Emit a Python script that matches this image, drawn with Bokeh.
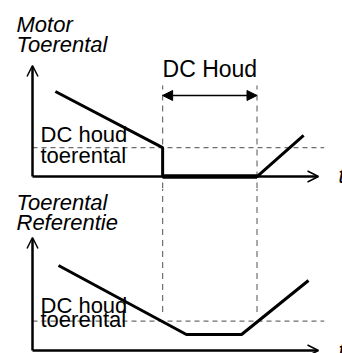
from bokeh.plotting import figure
from bokeh.layouts import column
from bokeh.models import Range1d, Arrow, OpenHead, NormalHead, Label
from bokeh.embed import file_html
from bokeh.resources import INLINE

# ---- data (time in % of axis length, speed in % of axis height) ----
motor_t = [8.0, 45.5, 45.5, 78.5, 94.8]
motor_n = [76.6, 26.0, 0.0, 0.0, 37.0]

ref_t = [9.1, 53.8, 73.1, 96.5]
ref_n = [75.2, 14.2, 14.2, 62.0]

dc_hold_speed = 26.0
dc_start = 45.5
dc_end = 78.5

top_labels = ["Motor", "Toerental"]
bot_labels = ["Toerental", "Referentie"]
dc_label = ["DC houd", "toerental"]
dc_hold_label = "DC Houd"
time_label = "t"

FONT = "Liberation Sans"
W = 342
GRAY = "#6e6e6e"


def make_fig(h, y0, y1):
    p = figure(width=W, height=h, x_range=Range1d(-11.19, 108.39),
               y_range=Range1d(y0, y1), output_backend="svg",
               toolbar_location=None, min_border=0)
    p.xaxis.visible = False
    p.yaxis.visible = False
    p.grid.visible = False
    p.outline_line_color = None
    p.background_fill_color = "white"
    p.border_fill_color = "white"
    return p


def axes(p):
    p.add_layout(Arrow(end=OpenHead(size=11, line_width=1.5, line_color="black"),
                       x_start=0, y_start=0, x_end=0, y_end=100,
                       line_width=2.5, line_color="black"))
    p.add_layout(Arrow(end=OpenHead(size=11, line_width=1.5, line_color="black"),
                       x_start=0, y_start=0, x_end=100, y_end=0,
                       line_width=2.5, line_color="black"))


def label(p, x, y, txt, style="normal", size="22px", align="left"):
    p.add_layout(Label(x=x, y=y, text=txt, text_font=FONT, text_font_size=size,
                       text_font_style=style, text_baseline="alphabetic",
                       text_align=align, text_color="black"))


# ---------------- top panel ----------------
p1 = make_fig(188, -10.8, 158.6)
# dashed guides
p1.line([0, 102], [dc_hold_speed, dc_hold_speed], line_dash="5 4",
        line_color=GRAY, line_width=1.2)
p1.line([dc_start, dc_start], [-10.8, 82], line_dash="6 5",
        line_color=GRAY, line_width=1.2)
p1.line([dc_end, dc_end], [-10.8, 82], line_dash="6 5",
        line_color=GRAY, line_width=1.2)
axes(p1)
p1.line(motor_t, motor_n, line_width=3, line_color="black")
p1.line([dc_start, dc_end], [0, 0], line_width=4.5, line_color="black")
# DC Houd double arrow
p1.add_layout(Arrow(start=NormalHead(size=10, fill_color="black", line_color="black"),
                    end=NormalHead(size=10, fill_color="black", line_color="black"),
                    x_start=dc_start, y_start=73, x_end=dc_end, y_end=73,
                    line_width=1.5, line_color="black"))
label(p1, (dc_start + dc_end) / 2, 97.2, dc_hold_label, size="23px", align="center")
label(p1, -5.6, 136.9, top_labels[0], style="italic")
label(p1, -5.6, 118.9, top_labels[1], style="italic")
label(p1, 2.8, 37.8, dc_label[0])
label(p1, 2.8, 18.9, dc_label[1])
label(p1, 107.0, 1.0, time_label, style="italic")

# ---------------- bottom panel ----------------
p2 = make_fig(165, -2.65, 143.4)
p2.line([0, 102], [dc_hold_speed, dc_hold_speed], line_dash="5 4",
        line_color=GRAY, line_width=1.2)
p2.line([dc_start, dc_start], [34, 143.4], line_dash="6 5",
        line_color=GRAY, line_width=1.2)
p2.line([dc_end, dc_end], [34, 143.4], line_dash="6 5",
        line_color=GRAY, line_width=1.2)
axes(p2)
p2.line(ref_t, ref_n, line_width=3, line_color="black")
label(p2, -5.6, 131.0, bot_labels[0], style="italic")
label(p2, -5.6, 113.3, bot_labels[1], style="italic")
label(p2, 2.8, 39.8, dc_label[0])
label(p2, 2.8, 27.5, dc_label[1])
label(p2, 107.0, 0.0, time_label, style="italic")

layout = column(p1, p2, spacing=0)
open("out.html", "w").write(file_html(layout, INLINE))
